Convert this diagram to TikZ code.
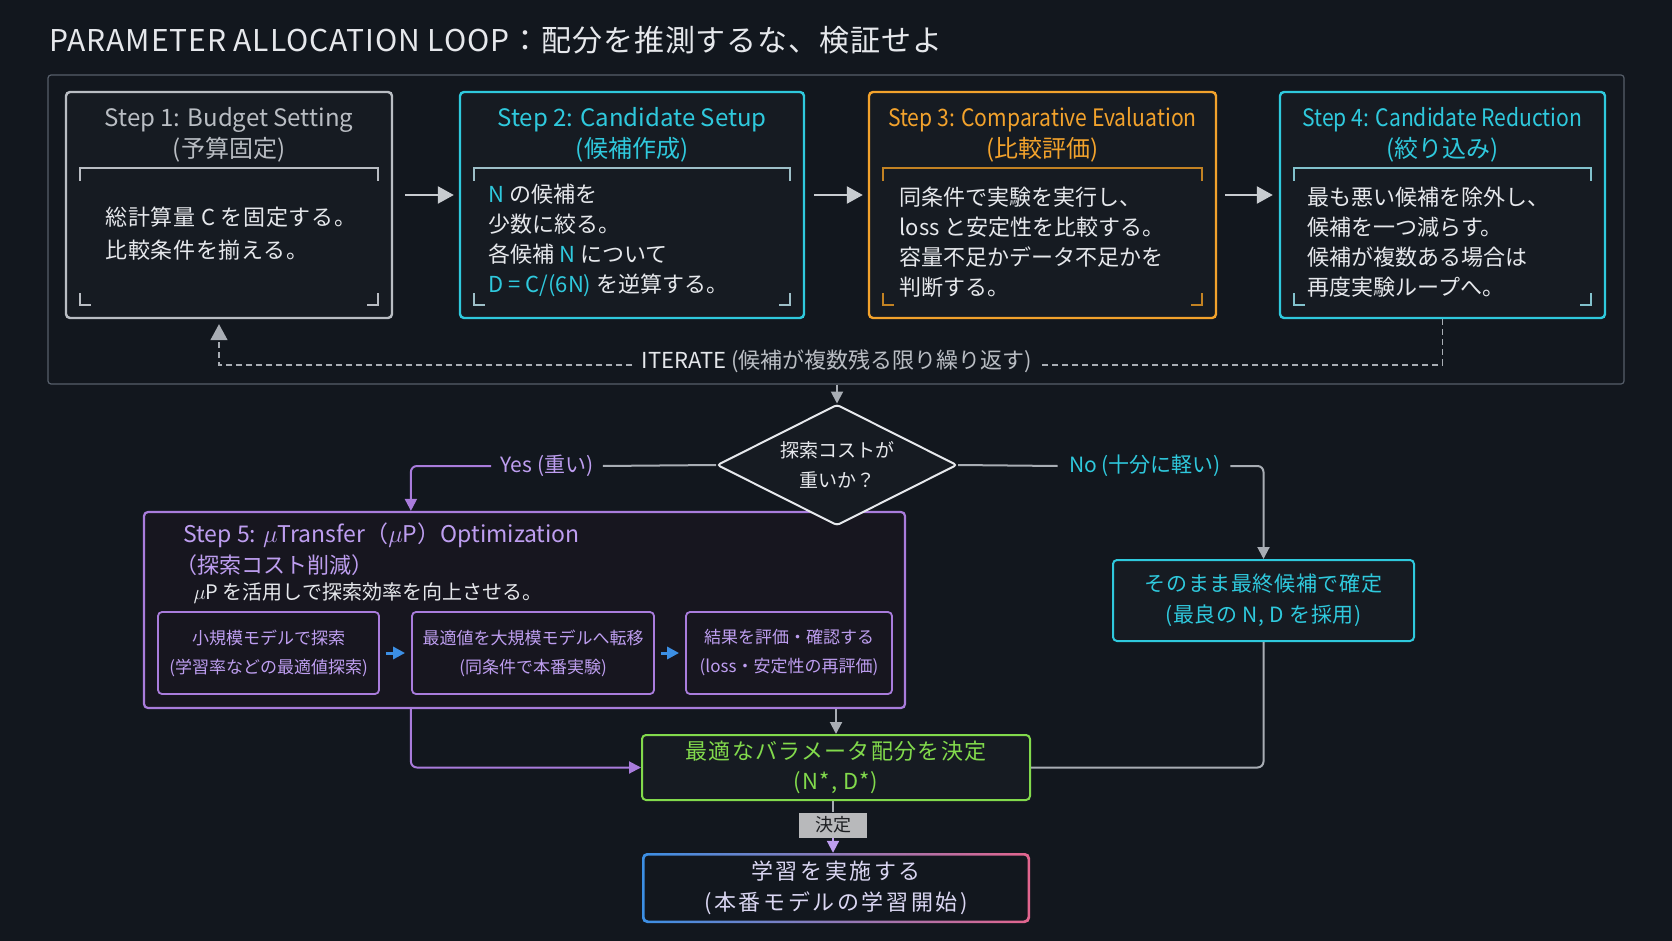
\documentclass[tikz,border=0pt]{standalone}
\usepackage{fontspec}
\setmainfont{Noto Sans CJK JP}
\usepackage{tikz}
\usetikzlibrary{arrows.meta,shapes,positioning}

\definecolor{bgc}{HTML}{12171E}
\definecolor{boxc}{HTML}{161B22}
\definecolor{box5c}{HTML}{17161F}
\definecolor{framec}{HTML}{565E6A}
\definecolor{greyc}{HTML}{B9BDC3}
\definecolor{arrowc}{HTML}{C8CCD0}
\definecolor{cyanc}{HTML}{2FC9DD}
\definecolor{orangec}{HTML}{F2A22C}
\definecolor{purplec}{HTML}{A97CDC}
\definecolor{lavc}{HTML}{BE9EF0}
\definecolor{bluec}{HTML}{3C8FE4}
\definecolor{greenc}{HTML}{82DA4C}
\definecolor{pinkc}{HTML}{E2658E}
\definecolor{textc}{HTML}{E6E8EC}
\definecolor{trainc}{HTML}{DAD6F2}
\definecolor{linec}{HTML}{A8ADB4}
\definecolor{tagc}{HTML}{B8B9BB}
\definecolor{tagtextc}{HTML}{1D1F22}

\newcommand{\fs}[2]{\fontsize{#1}{#2}\selectfont}

\begin{document}
\begin{tikzpicture}[x=1pt,y=-1pt,>={Triangle[length=12pt,width=12pt]},
  stepbox/.style={draw,rounded corners=4pt,line width=2.4pt,fill=boxc,minimum height=226pt,inner sep=0pt},
  steptitle/.style={align=center,font=\fs{24}{31}},
  bodytext/.style={anchor=west,align=left,text=textc,font=\fs{22}{30}},
  brk/.style={line width=1.3pt},
  gline/.style={draw=linec,line width=2pt,rounded corners=6pt},
  pline/.style={draw=purplec,line width=2pt,rounded corners=6pt},
  iterline/.style={draw=linec,line width=1.5pt,dash pattern=on 6pt off 4pt},
  bigtip/.style={>={Triangle[length=16pt,width=17pt]}},
  subbox/.style={draw=purplec,rounded corners=4pt,line width=1.8pt,minimum height=82pt,align=center,text=lavc,font=\fs{17}{29},inner sep=0pt},
  flowbox/.style={rounded corners=4pt,line width=2pt,align=center,fill=boxc,inner sep=0pt}]

\useasboundingbox (0,0) rectangle (1672,941);
\fill[bgc] (0,0) rectangle (1672,941);

% title
\node[anchor=west,text=textc,font=\fs{30}{36}\addfontfeatures{LetterSpace=3}] (title) at (46,40) {PARAMETER ALLOCATION LOOP：配分を推測するな、検証せよ};

% loop of steps 1-4
\node[draw=framec,line width=1.2pt,rounded corners=3pt,minimum width=1576pt,minimum height=309pt] (loop) at (836,229.5) {};

\node[stepbox,draw=greyc,minimum width=326pt] (s1) at (229,205) {};
\node[stepbox,draw=cyanc,minimum width=344pt] (s2) at (632,205) {};
\node[stepbox,draw=orangec,minimum width=347pt] (s3) at (1042.5,205) {};
\node[stepbox,draw=cyanc,minimum width=325pt] (s4) at (1442.5,205) {};

\foreach \l/\r/\c in {66/392/greyc,460/804/greyc!80!cyanc,869/1216/orangec!80!black,1280/1605/greyc!60!cyanc}{
  \draw[brk,draw=\c] (\l+14,181) -- (\l+14,168) -- (\r-14,168) -- (\r-14,181);
  \draw[brk,draw=\c] (\l+14,293) -- (\l+14,305) -- (\l+25,305);
  \draw[brk,draw=\c] (\r-25,305) -- (\r-14,305) -- (\r-14,293);
}

\node[steptitle,text=greyc] (t1) at (229,135) {Step 1: Budget Setting\\(予算固定)};
\node[steptitle,text=cyanc] (t2) at (632,135) {Step 2: Candidate Setup\\(候補作成)};
\node[steptitle,text=orangec] (t3) at (1042.5,135) {{\addfontfeatures{FakeStretch=0.88}Step 3: Comparative Evaluation}\\(比較評価)};
\node[steptitle,text=cyanc] (t4) at (1442.5,135) {{\addfontfeatures{FakeStretch=0.88}Step 4: Candidate Reduction}\\(絞り込み)};

\node[bodytext,font=\fs{22}{33}\addfontfeatures{LetterSpace=3}] (b1) at (102,234) {総計算量 C を固定する。\\比較条件を揃える。};
\node[bodytext] (b2) at (485,240) {\textcolor{cyanc}{N} の候補を\\少数に絞る。\\各候補 \textcolor{cyanc}{N} について\\\textcolor{cyanc}{D = C/(6N)} を逆算する。};
\node[bodytext] (b3) at (896,242) {同条件で実験を実行し、\\loss と安定性を比較する。\\容量不足かデータ不足かを\\判断する。};
\node[bodytext] (b4) at (1304,242) {最も悪い候補を除外し、\\候補を一つ減らす。\\候補が複数ある場合は\\再度実験ループへ。};

\node[text=textc,font=\fs{22}{26}] (it) at (837,361) {ITERATE \textcolor{greyc}{(候補が複数残る限り繰り返す)}};

% step 5
\node[draw=purplec,line width=2.2pt,rounded corners=4pt,fill=box5c,minimum width=761pt,minimum height=196pt] (s5) at (524.5,610) {};
\node[anchor=west,text=lavc,font=\fs{23}{28}] (s5t) at (180,535) {Step 5: $\mu$Transfer（$\mu$P）Optimization};
\node[anchor=west,text=lavc,font=\fs{22}{28}] (s5s) at (172,565) {（探索コスト削減）};
\node[anchor=west,text=textc,font=\fs{20}{26}] (s5d) at (190,593) {$\mu$P を活用しで探索効率を向上させる。};
\node[subbox,minimum width=221pt] (sa) at (268.5,653) {小規模モデルで探索\\(学習率などの最適値探索)};
\node[subbox,minimum width=242pt] (sb) at (533,653) {最適値を大規模モデルへ転移\\(同条件で本番実験)};
\node[subbox,minimum width=206pt] (sc) at (789,653) {結果を評価・確認する\\(loss・安定性の再評価)};

% decision
\node[diamond,draw=textc,line width=2pt,fill=boxc,aspect=2.14,inner sep=0pt,minimum width=240pt,minimum height=121pt,rounded corners=3pt,align=center,text=textc,font=\fs{19}{30}] (dm) at (837,465) {探索コストが\\重いか？};
\node[text=lavc,font=\fs{21}{26}] (yes) at (547,466) {Yes (重い)};
\node[text=cyanc,font=\fs{21}{26}] (no) at (1145,466) {No (十分に軽い)};

% results
\node[flowbox,draw=cyanc,text=cyanc,minimum width=301pt,minimum height=81pt,font=\fs{21}{31}\addfontfeatures{LetterSpace=3}] (fin) at (1263.5,600.5) {そのまま最終候補で確定\\(最良の N, D を採用)};
\node[flowbox,draw=greenc,text=greenc,minimum width=388pt,minimum height=65pt,font=\fs{22}{30}\addfontfeatures{LetterSpace=6}] (opt) at (836,767.5) {最適なバラメータ配分を決定\\(N*, D*)};
\shade[rounded corners=5pt,left color=bluec,middle color=lavc,right color=pinkc] (642,853) rectangle (1030,923);
\fill[bgc,rounded corners=4pt] (644.5,855.5) rectangle (1027.5,920.5);
\node[align=center,text=trainc,minimum width=388pt,minimum height=70pt,font=\fs{22}{31}\addfontfeatures{LetterSpace=12}] (train) at (836,888) {学習を実施する\\(本番モデルの学習開始)};
\node[fill=tagc,text=tagtextc,minimum width=68pt,minimum height=25pt,inner sep=0pt,font=\fs{18}{20}] (dec) at (833,825) {決定};

% connectors
\draw[->,bigtip,draw=arrowc,line width=2.4pt] ([xshift=12pt,yshift=10pt]s1.east) -- ([xshift=-5pt,yshift=10pt]s2.west);
\draw[->,bigtip,draw=arrowc,line width=2.4pt] ([xshift=9pt,yshift=10pt]s2.east) -- ([xshift=-5pt,yshift=10pt]s3.west);
\draw[->,bigtip,draw=arrowc,line width=2.4pt] ([xshift=8pt,yshift=10pt]s3.east) -- ([xshift=-6pt,yshift=10pt]s4.west);
\draw[iterline] (s4.south) |- ([xshift=6pt,yshift=-4pt]it.east);
\draw[iterline,->,bigtip] ([xshift=-6pt,yshift=-4pt]it.west) -| ([xshift=-10pt,yshift=-5pt]s1.south);
\draw[->,linec,line width=2pt] (loop.south -| dm.north) -- (dm.north);
\draw[gline] (dm.west) -- ([xshift=6pt]yes.east);
\draw[pline,->] ([xshift=-6pt]yes.west) -| ([xshift=268pt]s5.north west);
\draw[gline] (dm.east) -- ([xshift=-8pt]no.west);
\draw[gline,->] ([xshift=6pt]no.east) -| (fin.north);
\draw[->,bluec,line width=3pt] ([xshift=6pt]sa.east) -- ([xshift=-6pt]sb.west);
\draw[->,bluec,line width=3pt] ([xshift=6pt]sb.east) -- ([xshift=-6pt]sc.west);
\draw[->,linec,line width=2pt] (opt.north |- s5.south) -- (opt.north);
\draw[pline,->] ([xshift=268pt]s5.south west) |- (opt.west);
\draw[gline] (fin.south) |- (opt.east);
\draw[linec,line width=2pt] (dec.north |- opt.south) -- (dec.north);
\draw[->,lavc,line width=2pt] (dec.south) -- (dec.south |- train.north);
\end{tikzpicture}
\end{document}
